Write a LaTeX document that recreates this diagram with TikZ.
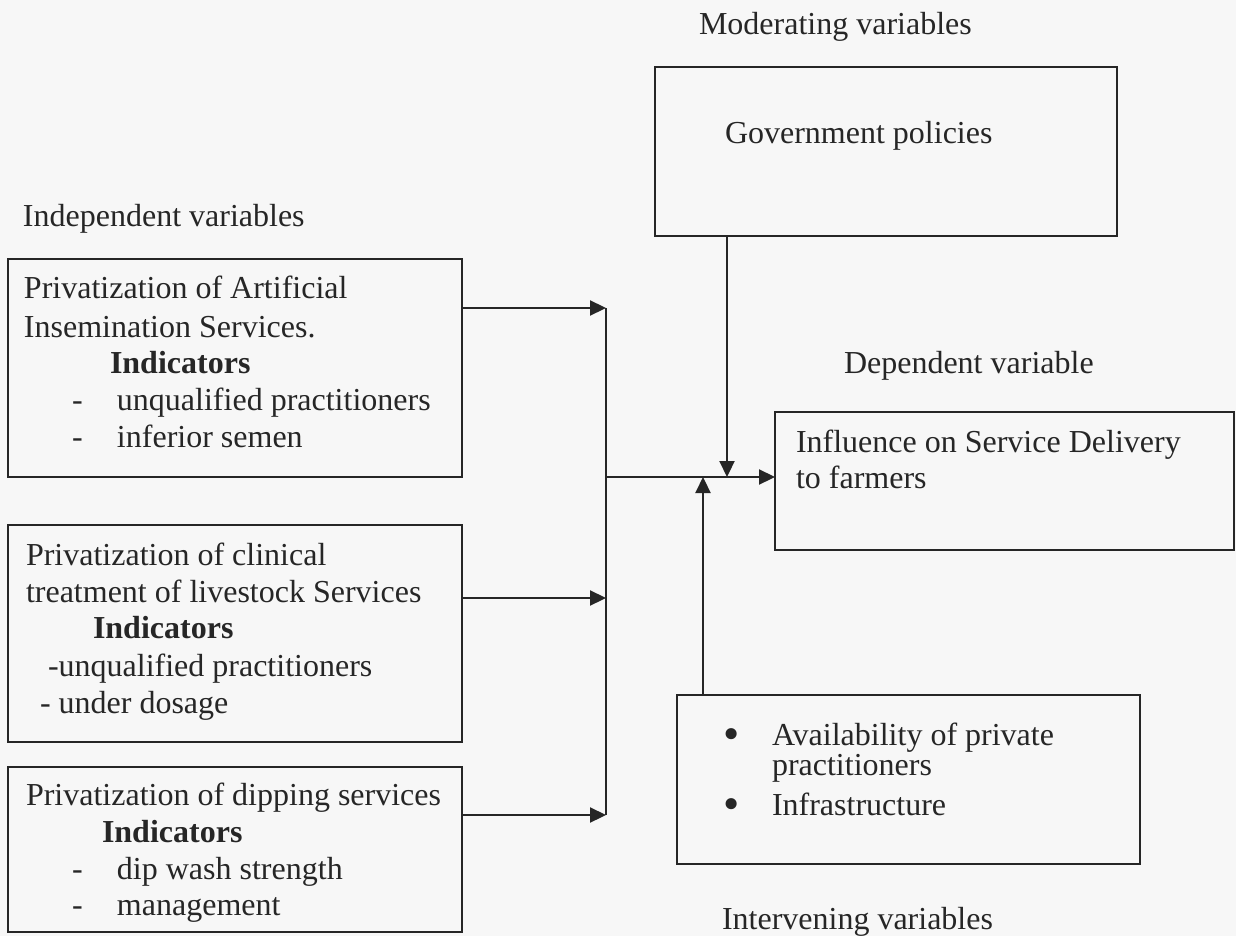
\documentclass[tikz,border=0pt]{standalone}
\usepackage{fontspec}
\setmainfont{Liberation Serif}
\usetikzlibrary{arrows.meta,fit}
\definecolor{ink}{HTML}{262626}
\definecolor{paper}{HTML}{F7F7F7}
\newcommand{\bigbul}{\makebox[24.5pt][l]{\raisebox{-2.4pt}{\scalebox{1.45}{•}}}}
\begin{document}
\begin{tikzpicture}[x=0.5pt,y=-0.5pt,
  box/.style={draw=ink,line width=1.1pt,inner sep=0pt,outer sep=0pt},
  txt/.style={anchor=base west,inner sep=0pt,outer sep=0pt,text=ink,font=\fontsize{16}{18}\selectfont},
  conn/.style={draw=ink,line width=1.1pt},
  arr/.style={conn,-{Triangle[length=8pt,width=7.5pt]}}]
\fill[paper] (0,0) rectangle (1236,936);
\useasboundingbox (0,0) rectangle (1236,936);

% boxes
\node[box,fit={(8,259) (462,477)}] (b1) {};
\node[box,fit={(8,525) (462,742)}] (b2) {};
\node[box,fit={(8,767) (462,932)}] (b3) {};
\node[box,fit={(655,67) (1117,236)}] (gov) {};
\node[box,fit={(775,412) (1234,550)}] (inf) {};
\node[box,fit={(677,695) (1140,864)}] (int) {};

% headings
\node[txt] (lind) at (23,227) {Independent variables};
\node[txt] (lmod) at (699,35) {Moderating variables};
\node[txt] (ldep) at (844,373) {Dependent variable};
\node[txt] (lint) at (722,929) {Intervening variables};

% box 1
\node[txt] (b1a) at (24,299) {Privatization of Artificial};
\node[txt] (b1b) at (24,337) {Insemination Services.};
\node[txt] (b1c) at (110,373) {\bfseries Indicators};
\node[txt] (b1d) at (72,410) {\makebox[22.5pt][l]{-}unqualified practitioners};
\node[txt] (b1e) at (72,447) {\makebox[22.5pt][l]{-}inferior semen};

% box 2
\node[txt] (b2a) at (26,565) {Privatization of clinical};
\node[txt] (b2b) at (26,602) {treatment of livestock Services};
\node[txt] (b2c) at (93,638) {\bfseries Indicators};
\node[txt] (b2d) at (48,676) {-unqualified practitioners};
\node[txt] (b2e) at (40,713) {- under dosage};

% box 3
\node[txt] (b3a) at (26,805) {Privatization of dipping services};
\node[txt] (b3b) at (102,842) {\bfseries Indicators};
\node[txt] (b3c) at (72,879) {\makebox[22.5pt][l]{-}dip wash strength};
\node[txt] (b3d) at (72,915) {\makebox[22.5pt][l]{-}management};

% government
\node[txt] (govt) at (725,144) {Government policies};

% influence
\node[txt] (infa) at (796,452) {Influence on Service Delivery};
\node[txt] (infb) at (796,488) {to farmers};

% intervening
\node[txt] (inta) at (723,745) {\bigbul Availability of private};
\node[txt] (intb) at (772,775) {practitioners};
\node[txt] (intc) at (723,815) {\bigbul Infrastructure};

% connectors
\coordinate (j1) at (606,308);
\coordinate (j2) at (606,598);
\coordinate (j3) at (606,815);
\coordinate (jm) at (606,477);
\coordinate (gx) at (727,477);
\coordinate (ix) at (703,477);

\draw[arr] (b1.east |- j1) -- (j1);
\draw[arr] (b2.east |- j2) -- (j2);
\draw[arr] (b3.east |- j3) -- (j3);
\draw[conn] (j1) -- (j3);
\draw[arr] (jm) -- (inf.west |- jm);
\draw[arr] (gov.south -| gx) -- (gx);
\draw[arr] (int.north -| ix) -- (ix);
\end{tikzpicture}
\end{document}
